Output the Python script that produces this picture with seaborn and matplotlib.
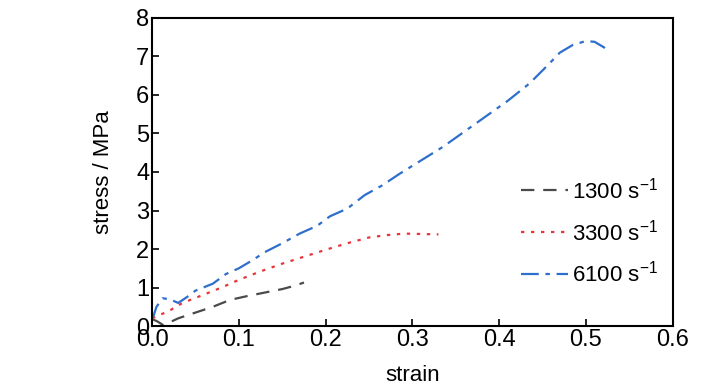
import matplotlib
matplotlib.use('Agg')
import matplotlib.pyplot as plt
import pandas as pd
import seaborn as sns

# Data (strain, stress in MPa)
strain_1300 = [0.0, 0.006, 0.013, 0.03, 0.05, 0.07, 0.09, 0.11, 0.13, 0.15, 0.165, 0.175]
stress_1300 = [0.18, 0.12, 0.02, 0.2, 0.35, 0.5, 0.68, 0.78, 0.87, 0.96, 1.05, 1.13]

strain_3300 = [0.0, 0.02, 0.035, 0.06, 0.08, 0.1, 0.125, 0.15, 0.175, 0.2, 0.225, 0.25, 0.27, 0.29, 0.31, 0.33]
stress_3300 = [0.2, 0.4, 0.6, 0.82, 1.0, 1.2, 1.42, 1.62, 1.8, 1.98, 2.15, 2.3, 2.36, 2.4, 2.39, 2.38]

strain_6100 = [0.0, 0.005, 0.012, 0.02, 0.03, 0.04, 0.05, 0.07, 0.085, 0.1, 0.115, 0.13, 0.15, 0.17, 0.19,
               0.205, 0.225, 0.245, 0.265, 0.285, 0.31, 0.335, 0.36, 0.385, 0.41, 0.435, 0.455, 0.47,
               0.485, 0.5, 0.51, 0.522]
stress_6100 = [0.15, 0.5, 0.72, 0.7, 0.6, 0.75, 0.92, 1.1, 1.35, 1.5, 1.7, 1.92, 2.15, 2.4, 2.6,
               2.85, 3.05, 3.4, 3.65, 3.95, 4.3, 4.65, 5.05, 5.45, 5.85, 6.3, 6.75, 7.1,
               7.3, 7.4, 7.38, 7.22]

labels = ['1300 s$^{-1}$', '3300 s$^{-1}$', '6100 s$^{-1}$']
colors = ['#4a4a4a', '#e8353a', '#2f6fcc']
styles = [(0, (6, 4)), (0, (1.5, 3)), (0, (8, 3, 2, 3))]

sns.set_style('ticks')
plt.rcParams['font.family'] = ['Liberation Sans', 'DejaVu Sans']
plt.rcParams['mathtext.fontset'] = 'custom'
plt.rcParams['mathtext.rm'] = 'Liberation Sans'
plt.rcParams['text.color'] = 'black'
plt.rcParams['axes.labelcolor'] = 'black'

fig, ax = plt.subplots(figsize=(7.28, 3.9), dpi=100)
fig.subplots_adjust(left=0.209, right=0.924, bottom=0.164, top=0.954)

series = [(strain_1300, stress_1300), (strain_3300, stress_3300), (strain_6100, stress_6100)]
for (x, y), lab, c, ls in zip(series, labels, colors, styles):
    df = pd.DataFrame({'strain': x, 'stress': y})
    sns.lineplot(data=df, x='strain', y='stress', ax=ax, color=c, linestyle=ls,
                 linewidth=1.6, label=lab, sort=False)

ax.set_xlim(0, 0.6)
ax.set_ylim(0, 8)
ax.set_xticks([0.0, 0.1, 0.2, 0.3, 0.4, 0.5, 0.6])
ax.set_yticks(range(0, 9))
ax.set_xticklabels(['0.0', '0.1', '0.2', '0.3', '0.4', '0.5', '0.6'])
ax.tick_params(direction='in', length=5, width=1.2, labelsize=17, colors='black', pad=2)
for s in ax.spines.values():
    s.set_linewidth(1.5)
    s.set_color('black')
ax.set_xlabel('strain', fontsize=16, labelpad=10)
ax.set_ylabel('stress / MPa', fontsize=16, labelpad=16)

ax.legend(loc='center right', bbox_to_anchor=(1.01, 0.305), frameon=False, fontsize=16,
          handlelength=2.1, handletextpad=0.2, labelspacing=0.72)

fig.savefig('out.png', dpi=100)
